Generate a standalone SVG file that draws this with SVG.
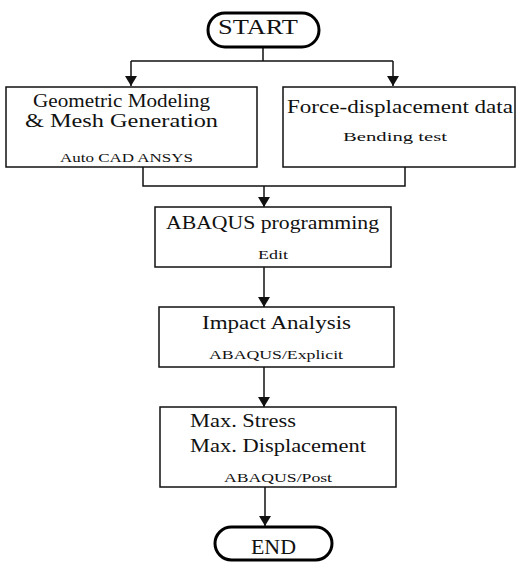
<svg xmlns="http://www.w3.org/2000/svg" width="517" height="562" viewBox="0 0 517 562">
<style>
.box{fill:#fff;stroke:#111;stroke-width:1.5}
.term{fill:#fff;stroke:#000;stroke-width:3}
.t{font-family:"Liberation Serif","Times New Roman",serif;fill:#111}
.big{font-size:18px}
.sm{font-size:13px}
.ln{fill:none;stroke:#111;stroke-width:1.5}
</style>
<defs>
<marker id="ah" viewBox="0 0 10 12" refX="10" refY="6" markerWidth="10" markerHeight="12" markerUnits="userSpaceOnUse" orient="auto">
<path d="M0,0 L10,6 L0,12 Z" fill="#111"/>
</marker>
</defs>
<rect width="517" height="562" fill="#fff"/>
<g id="connectors">
<path class="ln" d="M263,48 V61 M131,61 H393"/>
<path class="ln" d="M131,61 V86" marker-end="url(#ah)"/>
<path class="ln" d="M393,61 V86" marker-end="url(#ah)"/>
<path class="ln" d="M143,167 V186 H405 V167"/>
<path class="ln" d="M264,186 V207" marker-end="url(#ah)"/>
<path class="ln" d="M264,267 V307" marker-end="url(#ah)"/>
<path class="ln" d="M264,367 V407" marker-end="url(#ah)"/>
<path class="ln" d="M265,487 V526" marker-end="url(#ah)"/>
</g>
<g id="start">
<rect class="term" x="208" y="13" width="111" height="34" rx="17"/>
<text class="t" x="218" y="34" font-size="20" textLength="80" lengthAdjust="spacingAndGlyphs">START</text>
</g>
<g id="geometric">
<rect class="box" x="6" y="87" width="251" height="80"/>
<text class="t big" x="33" y="107" textLength="177" lengthAdjust="spacingAndGlyphs">Geometric Modeling</text>
<text class="t big" x="25" y="127" textLength="193" lengthAdjust="spacingAndGlyphs">&amp; Mesh Generation</text>
<text class="t sm" x="60" y="162" textLength="133" lengthAdjust="spacingAndGlyphs">Auto CAD ANSYS</text>
</g>
<g id="force">
<rect class="box" x="283" y="87" width="232" height="80"/>
<text class="t big" x="287" y="113" textLength="226" lengthAdjust="spacingAndGlyphs">Force-displacement data</text>
<text class="t sm" x="343" y="141" textLength="104" lengthAdjust="spacingAndGlyphs">Bending test</text>
</g>
<g id="abaqus">
<rect class="box" x="155" y="207" width="236" height="60"/>
<text class="t big" x="166" y="229" textLength="213" lengthAdjust="spacingAndGlyphs">ABAQUS programming</text>
<text class="t sm" x="258" y="259" textLength="30" lengthAdjust="spacingAndGlyphs">Edit</text>
</g>
<g id="impact">
<rect class="box" x="159" y="307" width="235" height="60"/>
<text class="t big" x="202" y="329" textLength="149" lengthAdjust="spacingAndGlyphs">Impact Analysis</text>
<text class="t sm" x="209" y="359" textLength="134" lengthAdjust="spacingAndGlyphs">ABAQUS/Explicit</text>
</g>
<g id="max">
<rect class="box" x="160" y="407" width="236" height="80"/>
<text class="t big" x="190" y="427" textLength="106" lengthAdjust="spacingAndGlyphs">Max. Stress</text>
<text class="t big" x="190" y="452" textLength="176" lengthAdjust="spacingAndGlyphs">Max. Displacement</text>
<text class="t sm" x="224" y="482" textLength="108" lengthAdjust="spacingAndGlyphs">ABAQUS/Post</text>
</g>
<g id="end">
<rect class="term" x="215" y="527" width="117" height="33" rx="16.5"/>
<text class="t" x="251" y="554" font-size="20" textLength="45" lengthAdjust="spacingAndGlyphs">END</text>
</g>
</svg>
